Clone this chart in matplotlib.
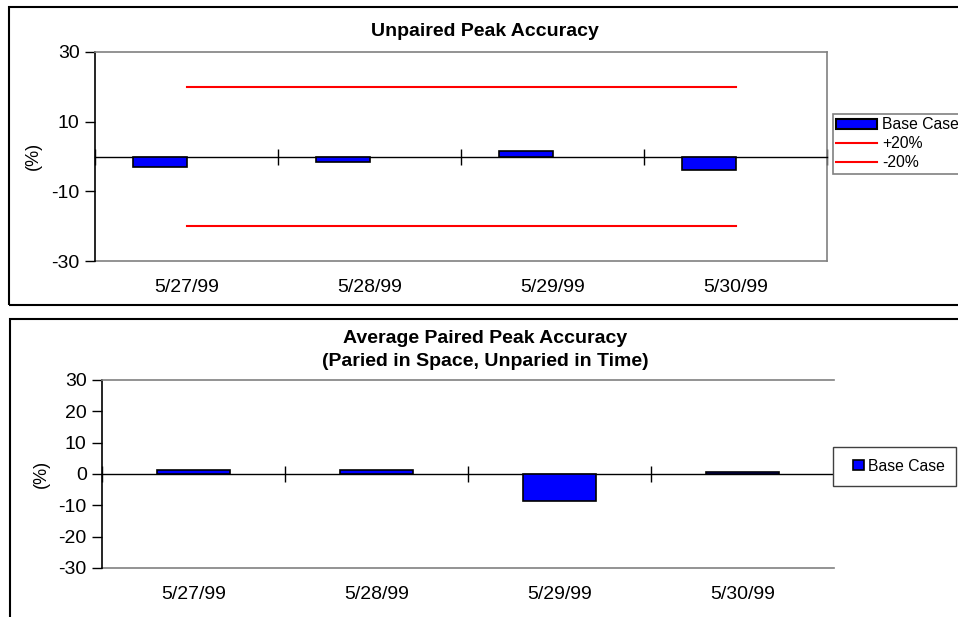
import numpy as np
import matplotlib
matplotlib.use('Agg')
import matplotlib.pyplot as plt
from matplotlib.patches import Rectangle, Patch
from matplotlib.lines import Line2D
from matplotlib.legend_handler import HandlerPatch

plt.rcParams['font.family'] = ['Liberation Sans', 'DejaVu Sans']
plt.rcParams['axes.unicode_minus'] = False

# data
dates = ['5/27/99', '5/28/99', '5/29/99', '5/30/99']
unpaired_base = [-3.1, -1.6, 1.5, -3.8]
upper_limit = [20, 20, 20, 20]
lower_limit = [-20, -20, -20, -20]
paired_base = [1.2, 1.2, -8.7, 0.5]

top_yticks = [-30, -10, 10, 30]
bottom_yticks = [-30, -20, -10, 0, 10, 20, 30]

W, H = 958, 617
fig = plt.figure(figsize=(W / 100, H / 100), dpi=100)


def px_axes(left, top, right, bottom):
    return fig.add_axes([left / W, 1 - bottom / H, (right - left) / W, (bottom - top) / H])


def style_axes(ax, yticks, right_border):
    n = len(dates)
    x = np.arange(n)
    ax.set_xlim(-0.5, n - 0.5)
    ax.set_ylim(-30, 30)
    ax.set_yticks(yticks)
    ax.tick_params(axis='y', direction='out', length=7, width=1, pad=4,
                   labelsize=14, color='black')
    ax.spines['left'].set_color('black')
    ax.spines['left'].set_linewidth(1.2)
    ax.spines['top'].set_color('#808080')
    ax.spines['top'].set_linewidth(1.2)
    ax.spines['right'].set_visible(right_border)
    ax.spines['right'].set_color('#808080')
    ax.spines['right'].set_linewidth(1.2)
    # zero line with category dividers
    ax.spines['bottom'].set_position(('data', 0))
    ax.spines['bottom'].set_color('black')
    ax.spines['bottom'].set_linewidth(1.0)
    ax.set_xticks(np.arange(n + 1) - 0.5)
    ax.tick_params(axis='x', direction='inout', length=12, width=1, labelbottom=False)
    # category labels along the frame bottom
    sec = ax.secondary_xaxis(0)
    sec.set_xticks(x, dates)
    sec.tick_params(length=0, pad=13, labelsize=14)
    sec.spines['bottom'].set_color('#808080')
    sec.spines['bottom'].set_linewidth(1.2)
    return x


def small_square(legend, orig_handle, xdescent, ydescent, width, height, fontsize):
    # square sitting at the right end of the handle box
    s = height
    return Rectangle((width - s - xdescent, -ydescent), s, s)


# ---- top chart ----
ax1 = px_axes(95, 52, 827, 261)
x = style_axes(ax1, top_yticks, True)
ax1.bar(x, unpaired_base, width=-0.295, align='edge', color='#0000FF',
        edgecolor='black', linewidth=1.2, zorder=3)
ax1.plot(x, upper_limit, color='red', lw=1.5, zorder=2)
ax1.plot(x, lower_limit, color='red', lw=1.5, zorder=2)

fig.text(485 / W, 1 - 31 / H, 'Unpaired Peak Accuracy', ha='center', va='center',
         fontsize=14, weight='bold')
fig.text(33 / W, 1 - 156 / H, '(%)', rotation=90, ha='center', va='center', fontsize=13)

h1 = [Patch(facecolor='#0000FF', edgecolor='black', linewidth=1.5),
      Line2D([], [], color='red', lw=1.5),
      Line2D([], [], color='red', lw=1.5)]
leg1 = fig.legend(h1, ['Base Case', '+20%', '-20%'], loc='upper left',
                  bbox_to_anchor=(833 / W, 1 - 114 / H), borderaxespad=0,
                  fontsize=11.3, handlelength=2.6, handleheight=0.65,
                  handletextpad=0.3, labelspacing=0.25, borderpad=0.22,
                  fancybox=False, edgecolor='#808080', framealpha=1)
leg1.get_frame().set_linewidth(1.2)

# ---- bottom chart ----
ax2 = px_axes(102, 380, 834, 568)
x = style_axes(ax2, bottom_yticks, False)
ax2.bar(x, paired_base, width=0.4, color='#0000FF', edgecolor='black',
        linewidth=1.2, zorder=3)

fig.text(485 / W, 1 - 350 / H,
         'Average Paired Peak Accuracy\n(Paried in Space, Unparied in Time)',
         ha='center', va='center', fontsize=14, weight='bold', linespacing=1.45)
fig.text(41 / W, 1 - 474 / H, '(%)', rotation=90, ha='center', va='center', fontsize=13)

h2 = [Patch(facecolor='#0000FF', edgecolor='black', linewidth=1.2)]
leg2 = fig.legend(h2, ['Base Case'], loc='upper left',
                  bbox_to_anchor=(833 / W, 1 - 447 / H), borderaxespad=0,
                  fontsize=11.3, handlelength=1.2, handleheight=0.65,
                  handletextpad=0.25, borderpad=0.75,
                  handler_map={Patch: HandlerPatch(patch_func=small_square)},
                  fancybox=False, edgecolor='#404040', framealpha=1)
leg2.get_frame().set_linewidth(1.0)

# outer chart frames
fig.add_artist(Rectangle((9 / W, 1 - 305 / H), 1.01 - 9 / W, 298 / H,
                         transform=fig.transFigure, fill=False,
                         edgecolor='black', lw=1.5, clip_on=False))
fig.add_artist(Rectangle((10 / W, -0.01), 1.01 - 10 / W, 1.01 - 319 / H,
                         transform=fig.transFigure, fill=False,
                         edgecolor='black', lw=1.5, clip_on=False))

fig.savefig('out.png', dpi=100)
